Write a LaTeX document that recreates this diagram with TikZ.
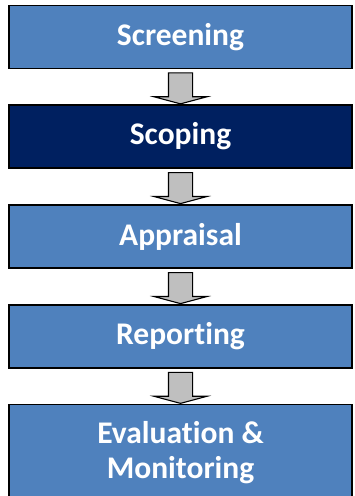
\documentclass[tikz,border=0pt]{standalone}
\usepackage{fontspec}
\setmainfont{Carlito}[Ligatures=NoCommon]
\usetikzlibrary{shapes.arrows}

\definecolor{stageblue}{HTML}{4F81BD}
\definecolor{stagenavy}{HTML}{002060}
\definecolor{arrowgrey}{HTML}{BFBFBF}

\tikzset{
  stage/.style={draw=black, line width=1.5pt, fill=stageblue, text=white,
    minimum width=343pt, minimum height=63pt, inner sep=0pt,
    align=center, font=\fontsize{31.5}{35}\selectfont\bfseries},
  current/.style={stage, fill=stagenavy},
  downarrow/.style={single arrow, draw=black, line width=1.1pt, fill=arrowgrey,
    inner sep=11.5pt, minimum height=31pt, single arrow head extend=14.5pt,
    single arrow tip angle=150, sloped, rotate=180, anchor=center},
}

\begin{document}
\begin{tikzpicture}[x=1pt,y=1pt,yscale=-1]
    \useasboundingbox (0,0) rectangle (355,496);
    \fill[white] (0,0) rectangle (355,496);

    % Stage Nodes
    \node (screening) [stage] at (180.5,37) {Screening};
    \node (scoping) [current] at (180.5,136.5) {Scoping};
    \node (appraisal) [stage] at (180.5,236.5) {Appraisal};
    \node (reporting) [stage] at (180.5,336.5) {Reporting};
    \node (evaluation) [stage, minimum height=96pt] at (180.5,452.5) {Evaluation \&\\Monitoring};

    % Block Arrows
    \path (screening.south) -- node[downarrow] {} (scoping.north);
    \path (scoping.south) -- node[downarrow] {} (appraisal.north);
    \path (appraisal.south) -- node[downarrow] {} (reporting.north);
    \path (reporting.south) -- node[downarrow] {} (evaluation.north);

\end{tikzpicture}
\end{document}
